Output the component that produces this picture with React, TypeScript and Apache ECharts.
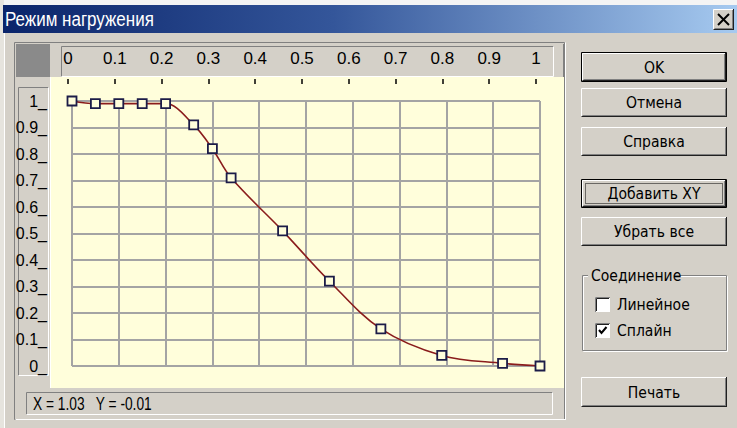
import React, { useEffect, useRef } from "react";
import * as echarts from "echarts";

// ---- data ----
const xValues = [0, 0.05, 0.1, 0.15, 0.2, 0.26, 0.3, 0.34, 0.45, 0.55, 0.66, 0.79, 0.92, 1.0];
const yValues = [1.0, 0.99, 0.99, 0.99, 0.99, 0.91, 0.82, 0.71, 0.51, 0.32, 0.14, 0.04, 0.01, 0.0];
const xTickLabels = ["0", "0.1", "0.2", "0.3", "0.4", "0.5", "0.6", "0.7", "0.8", "0.9", "1"];
const yTickLabels = ["0_", "0.1_", "0.2_", "0.3_", "0.4_", "0.5_", "0.6_", "0.7_", "0.8_", "0.9_", "1_"];
const titleText = "Режим нагружения";
const statusText = "X = 1.03   Y = -0.01";
const buttonLabels = ["OK", "Отмена", "Справка", "Добавить XY", "Убрать все", "Печать"];
const groupLabel = "Соединение";
const checkLabels = ["Линейное", "Сплайн"];
const checkStates = [false, true];

const FACE = "#d4d0c8";
const UI_FONT = '"DejaVu Sans", "Noto Sans", sans-serif';
const NARROW = '"Liberation Sans Narrow", "Liberation Sans", Arial, sans-serif';

function line(x1: number, y1: number, x2: number, y2: number, stroke: string, lw = 1, z = -5) {
  return {
    type: "line",
    z,
    silent: true,
    shape: { x1, y1, x2, y2 },
    style: { stroke, lineWidth: lw },
  };
}
function rect(x: number, y: number, w: number, h: number, fill: string, z = -5, stroke?: string, lw = 1) {
  return {
    type: "rect",
    z,
    silent: true,
    shape: { x, y, width: w, height: h },
    style: { fill, stroke: stroke || null, lineWidth: lw } as any,
  };
}
function text(x: number, y: number, t: string, font: string, fill = "#000", align = "left", z = 5, sx = 1, sy = 1) {
  return {
    type: "text",
    z,
    silent: true,
    x,
    y,
    scaleX: sx,
    scaleY: sy,
    style: {
      text: t,
      font,
      fill,
      textAlign: align,
      align,
      textVerticalAlign: "middle",
      verticalAlign: "middle",
    },
  };
}
// raised 3D frame (Windows classic)
function raised(x: number, y: number, w: number, h: number, z = 1) {
  const r = x + w, b = y + h;
  return [
    rect(x, y, w, h, FACE, z),
    line(x + 0.5, y + 0.5, r - 0.5, y + 0.5, "#ffffff", 1, z + 1),
    line(x + 0.5, y + 0.5, x + 0.5, b - 0.5, "#ffffff", 1, z + 1),
    line(x + 0.5, b - 0.5, r, b - 0.5, "#202020", 1, z + 1),
    line(r - 0.5, y, r - 0.5, b, "#202020", 1, z + 1),
    line(x + 1.5, b - 1.5, r - 1, b - 1.5, "#808080", 1, z + 1),
    line(r - 1.5, y + 1, r - 1.5, b - 1, "#808080", 1, z + 1),
  ];
}
// sunken frame
function sunken(x: number, y: number, w: number, h: number, fill: string, z = -4) {
  const r = x + w, b = y + h;
  return [
    rect(x, y, w, h, fill, z),
    line(x + 0.5, y + 0.5, r - 0.5, y + 0.5, "#808080", 1, z + 1),
    line(x + 0.5, y + 0.5, x + 0.5, b - 0.5, "#808080", 1, z + 1),
    line(x + 0.5, b - 0.5, r - 0.5, b - 0.5, "#ffffff", 1, z + 1),
    line(r - 0.5, y + 0.5, r - 0.5, b - 0.5, "#ffffff", 1, z + 1),
  ];
}

function button(x: number, y: number, w: number, h: number, label: string, kind: string) {
  const els: any[] = [];
  if (kind === "default" || kind === "focus") {
    els.push(rect(x, y, w, h, FACE, 1));
    els.push(...raised(x + 1, y + 1, w - 2, h - 2, 2));
    els.push(rect(x + 0.5, y + 0.5, w - 1, h - 1, "none", 4, "#000000", 1));
  } else {
    els.push(...raised(x, y, w, h, 1));
  }
  if (kind === "focus") {
    const fr = rect(x + 4.5, y + 4.5, w - 9, h - 9, "none", 4, "#000000", 1);
    fr.style.lineDash = [1, 1];
    els.push(fr);
  }
  els.push(text(x + w / 2, y + h / 2, label, `14px ${UI_FONT}`, "#000", "center", 6, 1, 1.1));
  return els;
}

export default function App() {
  const ref = useRef<HTMLDivElement>(null);
  useEffect(() => {
    if (!ref.current) return;
    const chart = echarts.init(ref.current, undefined, { renderer: "svg" });

    const g: any[] = [];
    // dialog background
    g.push(rect(0, 0, 737, 428, FACE, -20));
    g.push(rect(0, 0, 737, 5, "#f4f4f4", -19));
    g.push(rect(0, 0, 4, 428, "#e6e4de", -19));
    g.push(line(4.5, 33, 4.5, 428, "#ffffff", 1, -18));
    // title bar
    g.push({
      type: "rect",
      z: -18,
      silent: true,
      shape: { x: 3, y: 5, width: 734, height: 28 },
      style: {
        fill: new echarts.graphic.LinearGradient(0, 0, 1, 0, [
          { offset: 0, color: "#0a246a" },
          { offset: 0.45, color: "#34569a" },
          { offset: 1, color: "#a6caf0" },
        ]),
      },
    });
    g.push(text(5, 19, titleText, `17px "Liberation Sans", Arial, sans-serif`, "#ffffff", "left", 5, 1, 1.15));
    // close button
    g.push(...raised(713, 9, 21, 21, 2));
    g.push(line(718, 14, 729, 25, "#000", 2, 5));
    g.push(line(729, 14, 718, 25, "#000", 2, 5));

    // chart panel frame
    g.push(rect(14.5, 42.5, 550, 377, "none", -15, "#808080", 1));
    g.push(line(15.5, 419.5, 565.5, 419.5, "#ffffff", 1, -15));
    g.push(line(565.5, 42.5, 565.5, 420, "#ffffff", 1, -15));
    // yellow plot background
    g.push(rect(50, 77, 514, 311, "#fffedb", -14));
    // corner square
    g.push(rect(16, 44, 34, 33, "#8a8a8a", -14));
    // top ruler
    g.push(rect(50, 44, 514, 33, FACE, -14));
    g.push(...sunken(61, 46, 493, 31, FACE, -13));
    g.push(line(563.5, 44, 563.5, 77, "#808080", 1, -12));
    // left ruler
    g.push(rect(16, 77, 34, 311, FACE, -14));
    g.push(...sunken(18, 87, 31, 289, FACE, -13));
    g.push(line(50.5, 77, 50.5, 388, "#ffffff", 1, -12));
    // status bar
    g.push(rect(16, 388, 548, 31, FACE, -14));
    g.push(...sunken(26, 392, 527, 23, FACE, -13));
    g.push(text(33, 404, statusText, `16px "Liberation Sans", Arial, sans-serif`, "#000", "left", 5, 0.86, 1.1));

    // right side buttons
    const bx = 581, bw = 146;
    g.push(...button(bx, 52, bw, 30, buttonLabels[0], "default"));
    g.push(...button(bx, 88, bw, 29, buttonLabels[1], "normal"));
    g.push(...button(bx, 127, bw, 29, buttonLabels[2], "normal"));
    g.push(...button(bx, 179, bw, 29, buttonLabels[3], "focus"));
    g.push(...button(bx, 217, bw, 29, buttonLabels[4], "normal"));
    g.push(...button(bx, 377, bw, 30, buttonLabels[5], "normal"));

    // group box
    g.push(rect(582.5, 275.5, 144, 75, "none", 1, "#808080", 1));
    g.push(rect(583.5, 276.5, 144, 75, "none", 0, "#ffffff", 1));
    g.push(rect(588, 266, 86, 18, FACE, 2));
    g.push(text(591, 275, groupLabel, `14px ${UI_FONT}`, "#000", "left", 5, 1, 1.1));
    // checkboxes
    const cyList = [297, 323];
    cyList.forEach((cy, i) => {
      g.push(rect(595, cy, 15, 15, "#ffffff", 2));
      g.push(line(595.5, cy + 0.5, 610, cy + 0.5, "#808080", 1, 3));
      g.push(line(595.5, cy + 0.5, 595.5, cy + 15, "#808080", 1, 3));
      g.push(line(596.5, cy + 1.5, 609, cy + 1.5, "#202020", 1, 3));
      g.push(line(596.5, cy + 1.5, 596.5, cy + 14, "#202020", 1, 3));
      if (checkStates[i]) {
        g.push({
          type: "polyline",
          z: 4,
          silent: true,
          shape: { points: [[599, cy + 7], [601.5, cy + 10], [606.5, cy + 4]] },
          style: { stroke: "#000", lineWidth: 2, fill: "none" },
        });
      }
      g.push(text(617, cy + 7.5, checkLabels[i], `14px ${UI_FONT}`, "#000", "left", 5, 1, 1.1));
    });

    const data = xValues.map((x, i) => [x, yValues[i]]);

    chart.setOption({
      animation: false,
      backgroundColor: "transparent",
      grid: [
        { left: 72, top: 101, width: 468, height: 265, containLabel: false },
        { left: 68, top: 76, width: 468, height: 8, containLabel: false },
      ],
      xAxis: [
        {
          type: "value",
          gridIndex: 0,
          min: 0,
          max: 1,
          interval: 0.1,
          axisLine: { show: false },
          axisTick: { show: false },
          axisLabel: { show: false },
          splitLine: { show: true, lineStyle: { color: "#a4a4a4", width: 2 } },
        },
        {
          type: "value",
          gridIndex: 1,
          position: "top",
          min: 0,
          max: 1,
          interval: 0.1,
          z: 10,
          axisLine: { show: false },
          axisTick: { show: true, inside: false, length: 5, lineStyle: { color: "#000", width: 1.5 } },
          axisLabel: {
            show: true,
            margin: 9,
            color: "#000",
            fontSize: 17,
            fontFamily: NARROW,
            formatter: (v: number) => xTickLabels[Math.round(v * 10)] ?? "",
          },
          splitLine: { show: false },
        },
      ],
      yAxis: [
        {
          type: "value",
          gridIndex: 0,
          min: 0,
          max: 1,
          interval: 0.1,
          axisLine: { show: false },
          axisTick: { show: false },
          axisLabel: {
            show: true,
            margin: 25,
            color: "#000",
            fontSize: 16,
            fontFamily: NARROW,
            formatter: (v: number) => yTickLabels[Math.round(v * 10)] ?? "",
          },
          splitLine: { show: true, lineStyle: { color: "#a4a4a4", width: 2 } },
        },
        {
          type: "value",
          gridIndex: 1,
          show: false,
          min: 0,
          max: 1,
        },
      ],
      graphic: { elements: g },
      series: [
        {
          type: "line",
          xAxisIndex: 0,
          yAxisIndex: 0,
          data,
          smooth: 0.35,
          symbol: "rect",
          symbolSize: 9,
          showAllSymbol: true,
          z: 5,
          lineStyle: { color: "#8a1c1c", width: 1.6 },
          itemStyle: { color: "#fffedb", borderColor: "#1c1c48", borderWidth: 1.8 },
          emphasis: { disabled: true },
        },
      ],
    });
    return () => chart.dispose();
  }, []);
  return (
    <div
      ref={ref}
      style={{ position: "absolute", left: 0, top: 0, width: 737, height: 428 }}
    />
  );
}
